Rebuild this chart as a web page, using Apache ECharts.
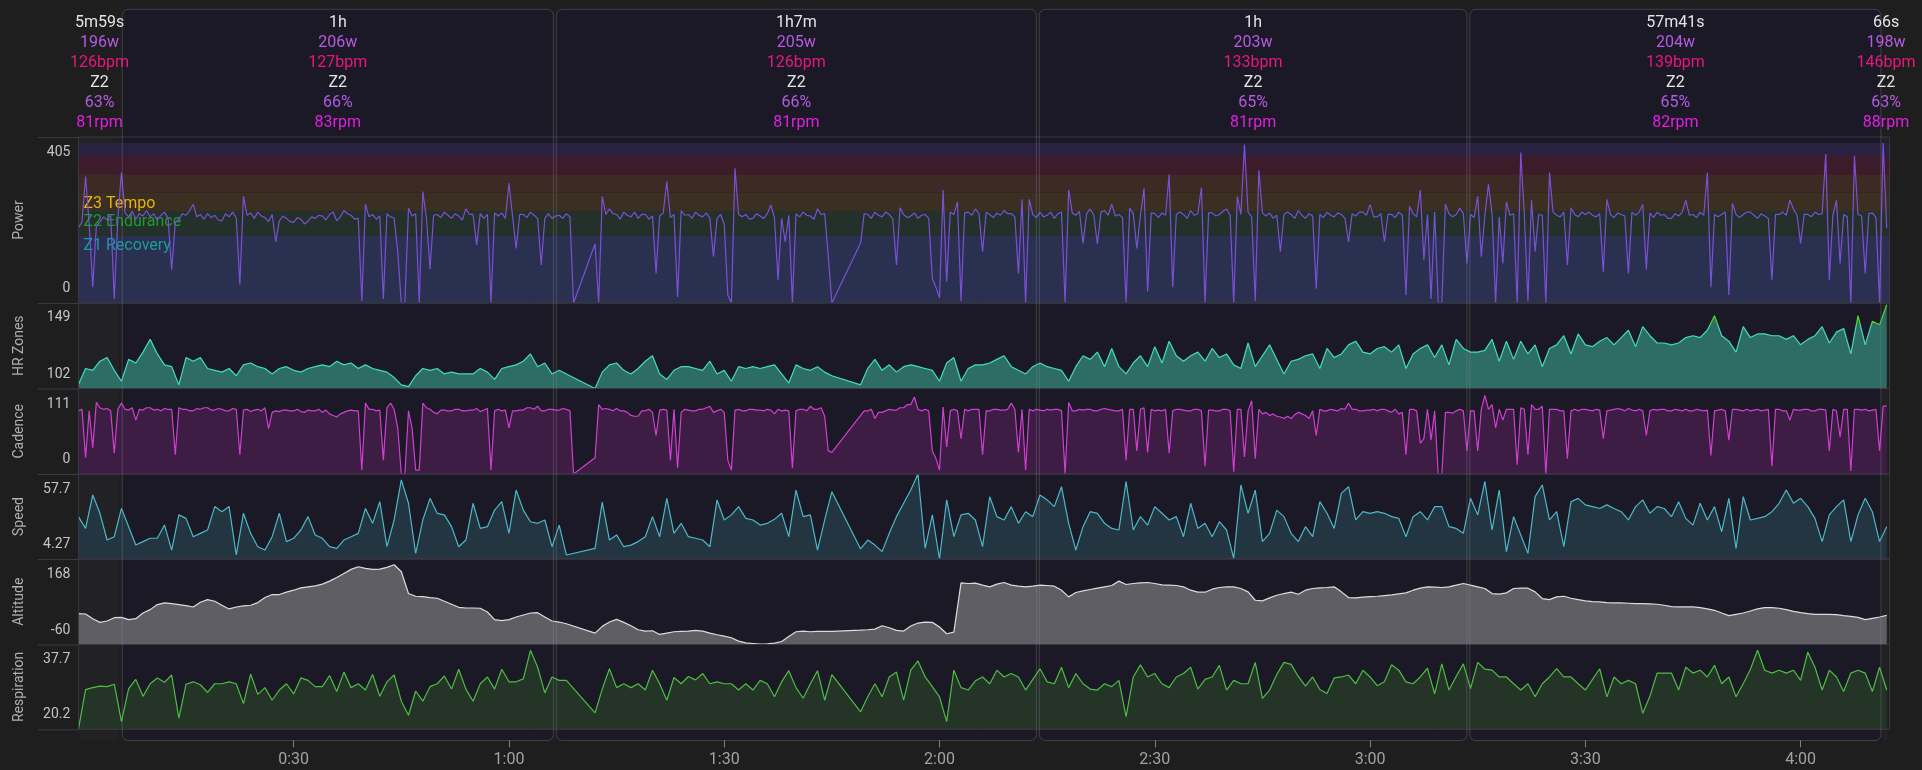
<!DOCTYPE html>
<html>
<head>
<meta charset="utf-8">
<script src="https://cdn.jsdelivr.net/npm/echarts@6/dist/echarts.min.js"></script>
<style>
html,body{margin:0;padding:0;background:#1e1e1f;}
#chart{width:1922px;height:770px;}
</style>
</head>
<body>
<div id="chart"></div>
<script>
// ---------------- data ----------------
// time axis in minutes from the start of the ride (null = paused, line bridges the gap)
const timeMax = 252.4;
const timeTicks = [30, 60, 90, 120, 150, 180, 210, 240];
const fineStep = 0.5;   // power & cadence: one sample per 30 s
const coarseStep = 1;   // other channels: one sample per minute

// segments (interval summary boxes)
const segBounds = [0, 5.9, 66.4, 133.7, 193.7, 251.4, 252.4];
const segDur   = ['5m59s', '1h', '1h7m', '1h', '57m41s', '66s'];
const segWatts = [196, 206, 205, 203, 204, 198];
const segBpm   = [126, 127, 126, 133, 139, 146];
const segZone  = ['Z2', 'Z2', 'Z2', 'Z2', 'Z2', 'Z2'];
const segPct   = [63, 66, 66, 65, 65, 63];
const segRpm   = [81, 83, 81, 81, 82, 88];

// power zones (W)
const zoneBounds = [0, 171, 233, 279, 326, 372, 405];
const zoneNames  = ['Z1 Recovery', 'Z2 Endurance', 'Z3 Tempo', 'Z4 Threshold', 'Z5 VO2 Max', 'Z6 Anaerobic'];
const hrHighFrom = 136;

// power, W, every 30 s (20 values per row = 10 minutes)
const power = [
190,205,320,200,40,195,205,218,210,222,10,215,330,228,218,232,212,226,220,234,
218,226,210,222,230,214,84,205,212,226,222,234,250,218,224,212,226,216,222,210,
208,226,218,230,215,46,270,222,228,214,230,220,216,206,224,155,208,220,214,206,
204,216,212,200,207,218,214,222,220,210,224,230,208,218,234,226,222,212,214,5,
250,218,224,212,220,10,226,218,215,130,0,0,240,220,226,0,282,214,86,222,
224,216,230,222,214,226,220,210,238,224,224,147,226,214,224,0,228,220,228,214,
303,220,138,224,224,216,230,222,214,96,214,226,214,220,222,214,226,218,0,null,
null,null,null,null,150,0,270,224,238,226,224,212,230,222,218,230,214,224,224,212,
220,75,220,228,307,216,224,15,234,222,224,214,230,222,218,228,214,117,214,224,
200,20,0,341,224,218,224,212,214,226,220,214,226,248,215,58,214,155,222,0,
226,218,230,222,220,212,238,224,226,118,0,null,null,null,null,null,null,null,152,226,
224,214,230,222,218,230,224,212,96,241,224,216,220,228,214,222,224,214,62,40,
13,286,54,230,224,256,5,228,230,222,238,226,130,230,224,216,228,222,234,226,
226,218,75,262,0,262,224,216,230,218,222,230,214,226,230,0,286,228,222,232,
151,226,238,222,150,230,234,222,250,220,224,216,0,240,226,138,222,290,29,228,
226,216,228,222,325,40,224,230,224,214,234,222,226,292,0,228,228,220,224,232,
238,222,0,269,224,401,230,218,5,336,228,220,228,214,222,130,224,230,224,214,
234,222,214,226,220,36,224,216,230,222,218,228,224,214,155,226,220,230,230,222,
249,218,218,226,155,224,224,216,230,222,20,245,226,218,286,109,224,10,230,0,
0,250,226,218,224,240,226,100,224,216,270,117,222,300,226,0,218,100,256,222,
226,0,381,224,5,260,130,224,222,0,330,230,222,218,230,96,241,224,218,230,
224,230,222,218,226,79,262,224,216,228,224,220,75,230,222,230,249,85,228,216,
230,222,224,214,214,226,220,230,260,222,224,216,230,222,330,40,224,218,224,230,
20,252,224,216,224,230,230,222,214,226,220,214,58,224,224,230,222,260,238,222,
151,224,224,218,230,224,226,377,58,222,260,100,224,218,0,372,224,220,75,226,
228,216,0,405,189
];

// cadence, rpm, every 30 s
const cadence = [
82,84,21,82,34,93,86,84,85,82,27,84,92,84,83,86,70,84,83,86,
86,83,84,82,85,84,84,25,86,84,84,82,82,85,84,86,86,83,83,85,
84,82,82,85,84,25,83,84,81,83,84,82,86,59,80,82,81,83,83,82,
82,84,81,80,83,82,82,84,80,83,78,76,74,78,80,82,83,82,82,5,
92,84,84,82,83,18,86,92,84,60,0,0,82,60,5,5,92,86,84,80,
78,83,83,82,82,84,84,82,82,83,83,85,81,83,85,5,82,84,82,83,
60,82,82,83,83,86,86,84,88,82,82,84,84,83,83,85,84,82,0,null,
null,null,null,null,21,90,84,85,84,82,85,82,82,80,76,75,75,82,82,84,
80,50,83,84,83,18,84,8,80,84,83,82,82,84,84,86,88,80,82,84,
80,18,5,83,84,82,82,84,84,83,83,82,84,83,78,84,82,83,82,8,
82,84,84,82,88,84,84,86,75,30,28,null,null,null,null,null,null,null,76,82,
82,84,72,80,80,82,84,83,83,86,86,90,90,100,84,82,84,82,30,20,
5,87,35,82,84,82,46,84,82,84,84,84,25,82,82,84,84,83,83,84,
92,84,28,84,5,84,82,84,83,82,84,83,84,84,82,0,93,82,82,84,
83,84,84,82,82,84,85,84,83,82,82,84,18,84,84,30,84,86,28,84,
82,83,82,84,27,82,84,84,83,82,82,84,84,82,10,83,83,82,82,84,
84,82,3,84,84,22,82,95,20,84,78,80,76,78,75,74,72,75,72,77,
80,78,76,72,82,50,84,82,82,84,83,82,85,84,92,84,84,82,82,83,
83,84,82,84,84,82,80,84,78,80,25,84,84,82,40,46,84,44,82,0,
0,80,80,79,82,84,82,30,82,82,30,84,102,84,90,60,84,70,84,84,
84,12,86,84,25,90,84,84,88,0,84,84,84,82,82,20,82,84,82,84,
84,83,82,84,83,46,82,83,84,85,84,82,85,83,82,84,82,50,82,84,
83,84,84,82,82,84,83,82,84,82,82,84,83,82,83,24,82,83,84,82,
44,84,84,83,82,84,82,83,84,82,83,84,10,84,84,82,82,70,84,83,
83,84,84,82,82,84,84,83,30,84,82,48,84,84,4,84,84,83,84,82,
83,84,30,88,88
];

// heart rate, bpm, every minute
const heartRate = [
104,113,112,117,119,112,106,118,116,122,
129,121,115,114,104,119,117,119,113,112,
111,113,109,115,116,114,113,110,113,114,
112,111,113,114,115,114,117,115,116,113,
115,113,112,111,108,104,103,109,113,112,
113,110,111,110,110,110,113,111,107,113,
114,115,117,121,114,116,110,112,110,null,
null,null,102,111,115,116,112,110,113,117,
120,110,107,112,114,114,113,112,117,110,
112,106,114,113,114,113,114,115,110,105,
115,113,112,114,111,109,null,null,null,104,
113,118,112,115,111,114,115,114,113,112,
106,116,119,106,113,115,115,116,118,120,
114,112,110,114,116,114,113,112,106,114,
120,118,122,114,124,114,110,116,120,114,
125,116,128,120,117,120,122,117,124,119,
121,115,113,127,114,120,126,118,110,117,
118,120,121,113,124,119,121,126,128,122,
121,124,125,122,126,113,121,124,126,119,
126,115,129,124,122,122,123,129,117,128,
118,128,121,126,114,124,126,131,121,132,
126,125,128,130,126,130,134,125,136,131,
127,127,126,127,130,131,130,134,142,131,
128,122,136,130,132,132,131,131,129,131,
126,129,131,136,127,133,135,121,142,126,
139,137,148
];

// speed, km/h, every minute
const speed = [
30.9,23.5,44.5,33,16.2,18.3,36.1,24.6,13.1,15.2,
17.3,17.3,25.6,9.9,32,29.8,18.3,20.4,22.5,37.2,
34,37.2,6.8,33,20.4,12,9.9,18.3,33,15.2,
17.3,22.5,30.9,19.4,17.3,12,11,16.2,18.3,20.4,
36,26.7,40.3,12,28.8,54,39.3,7.8,28.8,42.4,
33,32,24.6,12,16.2,39.3,23.5,24.6,35,40.3,
20.4,47.6,35,27.7,26.7,28.8,12,25.6,6.8,null,
null,null,11,40,16.2,19.4,12,13,15.2,18.3,
30.9,18.3,42.4,20.4,26.7,18.3,17.3,16.2,12,41.4,
28.8,32,37.2,29.8,28.8,25.6,26.7,29.2,33,18.3,
47.6,30.9,32,9.9,28.8,46.6,null,null,null,10.6,
16.2,13,8.9,20.4,30.9,39.3,47.6,57.7,11,32,
4.27,41.4,18.3,32,33,28.8,12,43.4,30.9,28.8,
37.2,26.7,34,30.9,44.5,41.4,37.2,49.7,26.7,9.9,
24.6,34,33,26.7,23.5,22.5,53,22.5,30.9,25.6,
37.2,33,28.8,30.9,18.3,39.3,23.5,26.7,18.3,27.7,
22.5,4.7,50.8,33,47.6,15.2,20.4,35,30.9,20.4,
15.2,24.6,18.3,40.3,33,23.5,45.5,49.7,28.8,34,
33,34,33,30.9,29.8,18.3,30.9,34,28.8,37.2,
37.2,24.6,23.5,20.4,42.4,32,53,22.5,47.6,8.9,
30.9,19.4,7.8,43.5,50.8,28.8,34,12,40.3,42.4,
38.3,37.2,36,38.3,36,34,28.8,37.2,41.4,33,
37.2,36,30.9,40.3,29.8,25.6,39.3,28.8,37.2,21.4,
42.4,11,43.5,28.8,29.8,30.9,34,39.3,47.6,39.3,
42.4,37.2,29.8,15.2,32,37.2,41.4,15.2,32,42.4,
34,15.2,24.6
];

// altitude, m, every minute
const altitude = [
22.2,21.4,8.8,-1,2.6,11.5,12.4,6.2,8.8,24,
33,46.4,50.9,49,46.4,43.7,40,52.6,59.8,55.3,
44.6,34.8,40,42.8,44.6,51.8,65.2,73.2,73.2,79.5,
84.8,91,93.8,96.5,101,109,118.8,129.5,140.3,147.4,
143,140.3,141.2,145.6,152.8,134,75.9,68.7,67.8,65.2,
63.4,55.3,47.3,39.2,37.4,37.4,36.6,26.7,6.2,3.5,
6.2,13.3,18.7,24,24.9,13.3,2.6,-0.1,-4.6,null,
null,null,-29.6,-11.7,-0.1,7,-1,-9.9,-20.7,-24.2,
-23.3,-33.2,-29.6,-26,-25.1,-24.2,-22.4,-24.2,-29.6,-34,
-37.6,-42.1,-51.1,-55.5,-57.3,-59.1,-58.2,-56.4,-52,-38.5,
-26,-24.2,-26,-25.1,-25.1,-25.1,null,null,null,-21.6,
-20.7,-18.9,-9.9,-15.3,-22.4,-24.2,-10.8,-2.8,-0.1,-1,
-13.5,-31.4,-26.9,104.5,102.7,103.6,98.2,93.8,100.9,105.4,
98.2,95.6,93.8,95.6,98.2,97.3,95.6,84.8,67,78.6,
83,86.6,90.2,93.8,97.3,109,100,102.7,104.5,105.4,
102.7,99.1,98.2,97.3,93.8,84.8,79.5,79.5,87.5,92,
93.8,93.8,89.3,80.4,58,56.2,64.3,71.4,75.9,79.5,
74.1,84.8,89.3,91.1,92,93.8,80.4,65.2,64.3,66.1,
67.8,68.7,70.5,72.3,75,77.7,84.8,90.2,93.8,92.9,
92,93.8,98.2,102.7,98.2,93.8,89.3,75.9,74.1,77.7,
89.3,90.2,90.2,80.4,62.5,59.8,67,68.7,63.4,59.8,
56.2,54.4,53.5,51.8,50.9,50.9,50,49.1,49.1,48.2,
47.3,44.6,41,40.1,40.1,40.1,38.3,34.8,31.2,24,
16.9,20.5,24,29.4,34.8,38.3,38.3,36.6,33,28.5,
24.9,22.2,20.5,20.5,20.5,19.6,16.9,15.1,12.4,6.2,
9.8,13.3,17.8
];

// respiration, breaths/min, every minute
const respiration = [
20.2,28.4,28.8,29.1,29.0,29.5,21.8,28.6,30.5,27.0,
29.6,30.8,29.9,31.4,22.5,29.5,30.0,29.4,27.8,29.6,
29.6,30.0,29.6,25.5,31.6,27.4,28.8,26.2,28.3,29.6,
27.5,30.8,30.3,29.0,29.0,31.3,28.0,32.0,28.8,29.6,
28.3,31.5,27.0,30.0,31.4,26.0,23.1,28.1,26.0,29.0,
29.6,31.2,28.5,32.6,28.5,26.0,29.6,31.0,28.5,32.6,
30.0,30.0,30.6,36.5,33.0,27.7,31.0,30.3,30.3,null,
null,null,23.6,28.5,32.7,28.8,29.6,28.8,29.6,28.3,
32.4,29.6,26.2,30.9,29.6,31.1,30.4,31.7,29.6,30.0,
29.6,29.6,28.3,29.6,28.3,30.3,29.6,26.9,30.0,32.3,
28.8,26.6,29.6,32.3,26.2,31.5,null,null,null,23.8,
26.9,29.6,26.9,31.0,32.0,26.2,32.4,34.3,31.0,29.0,
26.9,21.8,32.4,28.8,28.3,30.2,31.0,29.6,32.4,31.0,
31.7,31.0,28.3,30.5,32.7,30.0,29.6,33.0,28.8,31.7,
29.6,28.5,28.3,29.6,29.0,30.3,22.8,31.0,33.5,31.0,
31.7,29.6,28.8,31.0,31.7,33.0,28.5,30.5,31.0,33.4,
28.3,30.3,29.6,29.6,34.0,26.6,28.3,31.5,34.0,33.6,
31.1,29.1,31.0,28.4,27.6,30.8,31.0,31.4,29.6,32.4,
31.0,29.2,30.0,33.5,32.4,30.0,29.6,31.0,32.8,27.5,
33.7,28.3,31.1,33.7,28.6,34.0,32.6,32.4,31.0,31.0,
29.6,28.3,29.6,26.9,29.6,31.0,32.7,31.0,31.0,29.6,
28.3,30.5,32.7,26.9,31.0,29.6,30.3,29.6,23.5,27.0,
31.8,31.8,31.8,28.3,33.0,31.8,32.4,31.0,33.4,29.6,
31.0,26.9,29.6,32.6,36.5,32.4,31.8,32.4,31.8,32.4,
30.3,36.1,33.0,28.3,32.4,31.0,28.0,31.8,32.4,31.8,
28.0,33.0,28.3
];

// ---------------- styling / layout ----------------
const FONT = 'Roboto';
const L = 78.4, R = 32.4;
const panelLayout = [ // top, height (px)
  [137, 166], [303, 85.5], [388.5, 85.5], [474, 85], [559, 85.5], [644.5, 84.8]
];
const panels = [
  {name: 'Power',       data: power,       step: fineStep,   min: 0,    max: 420,  labels: [0, 405],      hiPad: 20, line: '#7b50d4', area: null},
  {name: 'HR Zones',    data: heartRate,   step: coarseStep, min: 102,  max: 149,  labels: [102, 149],    hiPad: 29, line: '#40dcc0', area: '#2d6d64', high: '#4fd62c'},
  {name: 'Cadence',     data: cadence,     step: fineStep,   min: 0,    max: 111,  labels: [0, 111],      hiPad: 31, line: '#d03fd2', area: '#3d1d44'},
  {name: 'Speed',       data: speed,       step: coarseStep, min: 4.27, max: 57.7, labels: [4.27, 57.7], hiPad: 30, line: '#4cb8c8', area: '#243542'},
  {name: 'Altitude',    data: altitude,    step: coarseStep, min: -60,  max: 168,  labels: [-60, 168],    hiPad: 30, line: '#dcdcdc', area: '#5f5e64'},
  {name: 'Respiration', data: respiration, step: coarseStep, min: 20.2, max: 37.7, labels: [20.2, 37.7],  hiPad: 30, line: '#4dbd44', area: '#243427'}
];
const zoneFill = ['#2a3150', '#24302a', '#3a2f21', '#3d2a25', '#3c1b2b', '#292140'];
const zoneLabelColor = ['#1a9c9c', '#1e9a34', '#e6b312', null, null, null];
const segLineColors = ['#e4e4e4', '#b55ae2', '#e8177f', '#e4e4e4', '#b55ae2', '#e01fe0'];
const segLines = [
  segDur,
  segWatts.map(v => v + 'w'),
  segBpm.map(v => v + 'bpm'),
  segZone,
  segPct.map(v => v + '%'),
  segRpm.map(v => v + 'rpm')
];
const segData = segDur.map((d, i) => [segBounds[i], segBounds[i + 1], 0.5]);
const panelsTop = panelLayout[0][0];
const panelsBottom = panelLayout[panelLayout.length - 1][0] + panelLayout[panelLayout.length - 1][1];

function fmtTime(v) {
  const h = Math.floor(v / 60), m = Math.round(v % 60);
  return h + ':' + String(m).padStart(2, '0');
}

const grids = [{left: L, right: R, top: 9.3, bottom: 29.5, show: false, outerBoundsMode: 'none'}];
panelLayout.forEach(([t, h]) => grids.push({
  left: L, right: R, top: t, height: h, show: true, z: 5,
  borderColor: '#3a3944', borderWidth: 1, backgroundColor: 'transparent', outerBoundsMode: 'none'
}));

const xAxes = [{gridIndex: 0, type: 'value', min: 0, max: timeMax, show: false}];
const yAxes = [{gridIndex: 0, type: 'value', min: 0, max: 1, show: false}];
panels.forEach((p, i) => {
  const last = i === panels.length - 1;
  const ax = {gridIndex: i + 1, type: 'value', min: 0, max: timeMax, show: last};
  if (last) {
    Object.assign(ax, {
      offset: 11,
      axisLine: {show: false},
      splitLine: {show: false},
      axisTick: {show: true, customValues: timeTicks, length: 7, lineStyle: {color: '#808080'}},
      axisLabel: {show: true, customValues: timeTicks, formatter: fmtTime, color: '#a2a2a2', fontSize: 16, fontFamily: FONT, margin: 12}
    });
  }
  xAxes.push(ax);
  const lo = p.labels[0], hi = p.labels[1];
  yAxes.push({
    gridIndex: i + 1, type: 'value', min: p.min, max: p.max,
    name: p.name, nameLocation: 'middle', nameGap: 52, nameRotate: 90,
    nameTextStyle: {color: '#b0b0b0', fontSize: 14, fontFamily: FONT},
    axisLine: {show: false}, axisTick: {show: false}, splitLine: {show: false},
    axisLabel: {
      customValues: [lo, hi], margin: 8, color: '#c4c4c4', fontSize: 14, fontFamily: FONT,
      formatter: v => (v === lo ? '{lo|' + v + '}' : '{hi|' + v + '}'),
      rich: {
        lo: {padding: [0, 0, 29, 0], color: '#c4c4c4', fontSize: 14, fontFamily: FONT},
        hi: {padding: [p.hiPad, 0, 0, 0], color: '#c4c4c4', fontSize: 14, fontFamily: FONT}
      }
    }
  });
});

function segRender(isFill) {
  return function (params, api) {
    const i = params.dataIndex;
    const s = api.value(0), e = api.value(1);
    const a = api.coord([s, 0.5])[0], b = api.coord([e, 0.5])[0];
    const cs = params.coordSys;
    const children = [];
    if (e - s >= 10) {
      children.push({
        type: 'rect',
        shape: {x: a + 1.5, y: cs.y, width: b - a - 3, height: cs.height, r: 6},
        style: isFill ? {fill: '#1c1926'} : {fill: 'none', stroke: 'rgba(140,136,160,0.32)', lineWidth: 1}
      });
    } else if (isFill) {
      // short segments: plain grey strip behind the panels only
      children.push({
        type: 'rect',
        shape: {x: a, y: panelsTop, width: Math.max(0, b - a - 1.5), height: cs.y + cs.height - panelsTop, r: [0, 0, 6, 6]},
        style: {fill: '#222225'}
      });
    }
    if (!isFill) {
      segLines.forEach((ln, k) => {
        children.push({
          type: 'text', x: (a + b) / 2, y: cs.y + 13.4 + 20 * k,
          style: {text: String(ln[i]), fill: segLineColors[k], font: '16px ' + FONT,
                  textAlign: 'center', textVerticalAlign: 'middle'}
        });
      });
    }
    return {type: 'group', children};
  };
}

const series = [{
  type: 'custom', name: 'segFill', xAxisIndex: 0, yAxisIndex: 0, data: segData,
  encode: {x: [0, 1], y: 2}, renderItem: segRender(true), z: 0, silent: true
}];

panels.forEach((p, i) => {
  const pts = p.data.map((v, k) => [k * p.step, v]).filter(d => d[1] !== null);
  let lineColor = p.line;
  if (p.high) {
    // colour the HR line above the threshold (gradient over the line's own y extent)
    const vals = pts.map(d => d[1]);
    const vMax = Math.max.apply(null, vals), vMin = Math.min.apply(null, vals);
    const off = Math.max(0, Math.min(1, (vMax - hrHighFrom) / (vMax - vMin)));
    lineColor = new echarts.graphic.LinearGradient(0, 0, 0, 1, [
      {offset: 0, color: p.high}, {offset: off, color: p.high},
      {offset: off, color: p.line}, {offset: 1, color: p.line}
    ]);
  }
  const s = {
    type: 'line', name: p.name, xAxisIndex: i + 1, yAxisIndex: i + 1,
    data: pts, showSymbol: false, symbol: 'none', z: 2,
    lineStyle: {color: lineColor, width: 1.2},
    itemStyle: {color: p.line}
  };
  if (p.area) s.areaStyle = {color: p.area, opacity: 1, origin: 'start'};
  if (i === 0) {
    s.markArea = {
      silent: true,
      data: zoneNames.map((nm, z) => [
        {yAxis: zoneBounds[z], name: nm, itemStyle: {color: zoneFill[z]},
         label: zoneLabelColor[z] ? {show: true, position: 'insideTopLeft', distance: 3, offset: [2, 0],
           color: zoneLabelColor[z], fontSize: 16, fontFamily: FONT} : {show: false}},
        {yAxis: zoneBounds[z + 1]}
      ])
    };
  }
  series.push(s);
});

series.push({
  type: 'custom', name: 'segOverlay', xAxisIndex: 0, yAxisIndex: 0, data: segData,
  encode: {x: [0, 1], y: 2}, renderItem: segRender(false), z: 10, silent: true
});

// panel separators continue left under the axis labels
const sepYs = panelLayout.map(d => d[0]).concat([panelsBottom]);
const graphic = sepYs.map(y => ({
  type: 'line', silent: true, z: 6,
  shape: {x1: 38, y1: y + 0.5, x2: L, y2: y + 0.5},
  style: {stroke: '#3a3944', lineWidth: 1}
}));

const chart = echarts.init(document.getElementById('chart'), null, {renderer: 'canvas'});
chart.setOption({
  backgroundColor: '#1e1e1f',
  animation: false,
  textStyle: {fontFamily: FONT},
  grid: grids,
  xAxis: xAxes,
  yAxis: yAxes,
  graphic: graphic,
  series: series
});
</script>
</body>
</html>
